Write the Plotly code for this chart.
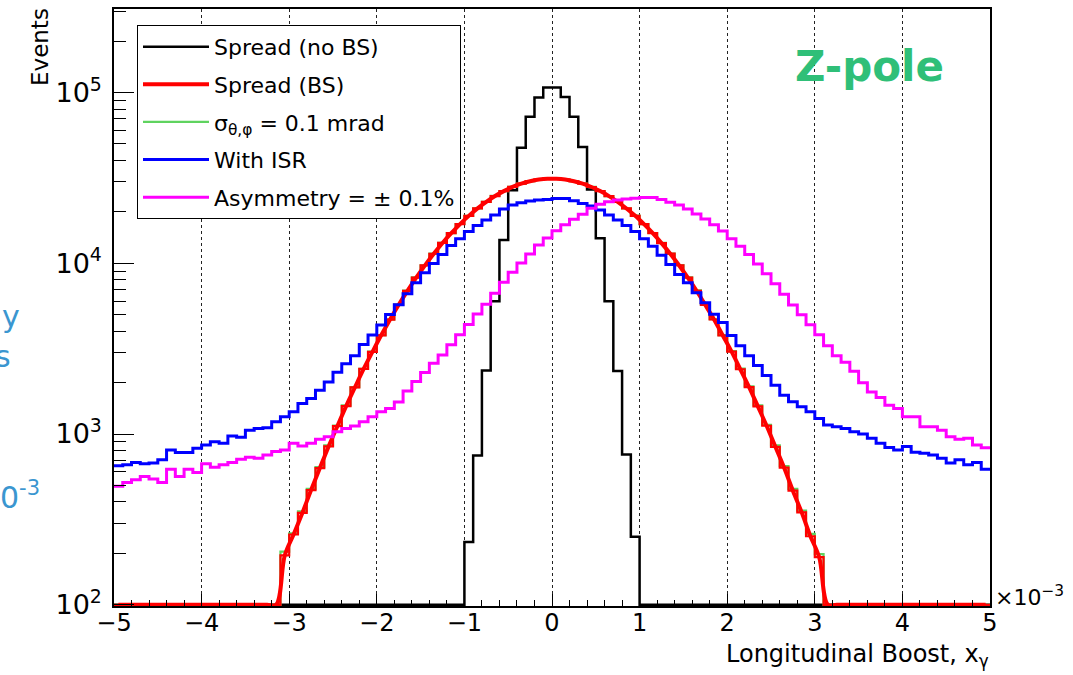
import numpy as np
import plotly.graph_objects as go

# ---------------- data (bin contents) ----------------
X_MIN, X_MAX, N_BINS = -5.0, 5.0, 100
Y_FLOOR = 100

spread_no_bs = [0] * 40 + [
    233, 748, 2355, 6000, 13700, 26800, 47500, 72000, 93600, 107000,
    107000, 94000, 72000, 48000, 27000, 14000, 6000, 2340, 760, 250,
] + [0] * 40

spread_bs = [0] * 19 + [
    195, 258, 345, 470, 632, 846, 1112, 1458, 1876, 2405,
    3025, 3785, 4675, 5715, 6895, 8245, 9725, 11370, 13150, 15000,
    16970, 18950, 20960, 22890, 24760, 26450, 27980, 29230, 30240, 30900,
    31270, 31250, 30920, 30220, 29250, 27960, 26470, 24740, 22910, 20940,
    18970, 16950, 15020, 13130, 11380, 9735, 8235, 6905, 5705, 4685,
    3775, 3035, 2395, 1884, 1452, 1118, 842, 635, 466, 348,
    252, 190,
] + [0] * 19

sigma_01 = [0] * 19 + [
    205, 262, 352, 478, 640, 858, 1120, 1470, 1880, 2410,
    3040, 3790, 4690, 5720, 6910, 8260, 9740, 11390, 13160, 15010,
    16980, 18960, 20980, 22900, 24780, 26470, 27990, 29250, 30260, 30910,
    31280, 31260, 30930, 30230, 29260, 27980, 26490, 24760, 22930, 20960,
    18990, 16970, 15040, 13150, 11400, 9760, 8260, 6930, 5730, 4700,
    3800, 3060, 2420, 1900, 1470, 1130, 858, 648, 478, 356,
    260, 198,
] + [0] * 19

with_isr = [
    652, 661, 681, 670, 676, 706, 807, 779, 779, 826,
    863, 902, 883, 973, 957, 1054, 1079, 1088, 1180, 1262,
    1350, 1508, 1613, 1803, 2015, 2303, 2576, 2878, 3340, 3800,
    4350, 5010, 5710, 6640, 7690, 8790, 9960, 11240, 12690, 13920,
    15360, 16640, 17950, 19190, 20800, 21950, 22620, 23130, 23440, 23650,
    23960, 23960, 23230, 22420, 21630, 20490, 19180, 17950, 16630, 15350,
    13920, 12570, 11140, 9820, 8590, 7690, 6720, 5880, 5030, 4500,
    3770, 3290, 2878, 2518, 2203, 1928, 1687, 1543, 1443, 1350,
    1234, 1128, 1103, 1079, 1032, 1000, 944, 883, 833, 807,
    844, 782, 772, 755, 722, 676, 706, 661, 681, 623,
]

asymmetry = [
    494, 521, 540, 565, 545, 521, 623, 565, 623, 596,
    670, 640, 661, 681, 713, 732, 722, 755, 789, 807,
    883, 851, 883, 931, 964, 1032, 1079, 1113, 1180, 1262,
    1350, 1410, 1541, 1786, 2030, 2290, 2600, 2900, 3330, 3820,
    4380, 5050, 5760, 6680, 7750, 8850, 10050, 11330, 12780, 14050,
    15480, 16800, 18100, 19380, 21000, 22150, 22900, 23450, 23800, 24050,
    24300, 24300, 23600, 22800, 21950, 20800, 19450, 18150, 16800, 15450,
    13940, 12570, 11240, 9910, 8670, 7590, 6580, 5700, 4990, 4370,
    3815, 3290, 2878, 2632, 2334, 1999, 1763, 1634, 1474, 1410,
    1262, 1262, 1103, 1103, 1054, 964, 931, 944, 863, 832,
]

x_tick_vals = [-5, -4, -3, -2, -1, 0, 1, 2, 3, 4, 5]
y_tick_vals = [1e2, 1e3, 1e4, 1e5]
y_tick_text = ["10<sup>2</sup>", "10<sup>3</sup>", "10<sup>4</sup>", "10<sup>5</sup>"]

# ---------------- figure ----------------
FONT = "DejaVu Sans"
W, H = 1073, 675
L, R, T, B = 114, 83, 7, 69
PW, PH = W - L - R, H - T - B

edges = np.linspace(X_MIN, X_MAX, N_BINS + 1)
centers = 0.5 * (edges[:-1] + edges[1:])


def step_xy(vals):
    y = np.clip(np.asarray(vals, dtype=float), Y_FLOOR, None)
    return edges, np.append(y, y[-1])


def px2paper(px, py):
    return (px - L) / PW, (H - B - py) / PH


fig = go.Figure()

x, y = step_xy(spread_no_bs)
fig.add_trace(go.Scatter(x=x, y=y, mode="lines", name="Spread (no BS)",
                         line=dict(color="black", width=2.5, shape="hv"),
                         legendgroup="a", legendrank=1))

x, y = step_xy(sigma_01)
fig.add_trace(go.Scatter(x=x, y=y, mode="lines",
                         name="σ<sub>θ,φ</sub> = 0.1 mrad",
                         line=dict(color="#5fd35f", width=2.2, shape="hv"),
                         legendgroup="c", legendrank=3))

x, y = step_xy(spread_bs)
fig.add_trace(go.Scatter(x=x, y=y, mode="lines", name="Spread (BS)",
                         line=dict(color="#ff0000", width=2.2, shape="hv"),
                         legendgroup="b", showlegend=False))
fig.add_trace(go.Scatter(x=centers, y=np.clip(np.asarray(spread_bs, float), Y_FLOOR, None),
                         mode="lines", name="Spread (BS)",
                         line=dict(color="#ff0000", width=4, shape="spline"),
                         legendgroup="b", legendrank=2))

x, y = step_xy(with_isr)
fig.add_trace(go.Scatter(x=x, y=y, mode="lines", name="With ISR",
                         line=dict(color="#0000ff", width=3, shape="hv"),
                         legendgroup="d", legendrank=4))

x, y = step_xy(asymmetry)
fig.add_trace(go.Scatter(x=x, y=y, mode="lines", name="Asymmetry = ± 0.1%",
                         line=dict(color="#ff00ff", width=3, shape="hv"),
                         legendgroup="e", legendrank=5))

ymax_log = 5.489
fig.update_layout(
    width=W, height=H, autosize=False,
    margin=dict(l=L, r=R, t=T, b=B, pad=0),
    paper_bgcolor="white", plot_bgcolor="white",
    font=dict(family=FONT, color="black"),
    showlegend=True,
    legend=dict(
        x=px2paper(137, 0)[0], y=px2paper(0, 23)[1],
        xanchor="left", yanchor="top",
        bgcolor="white", bordercolor="black", borderwidth=1,
        font=dict(family=FONT, size=22, color="black"),
        tracegroupgap=6, itemwidth=66, traceorder="grouped",
    ),
    xaxis=dict(
        range=[X_MIN, X_MAX], tickvals=x_tick_vals,
        ticks="inside", ticklen=12, tickwidth=1, tickcolor="black",
        showline=True, linecolor="black", linewidth=1.5, mirror=True,
        showgrid=True, gridcolor="#222222", griddash="dot", gridwidth=1,
        zeroline=False,
        tickfont=dict(family=FONT, size=24, color="black"),
        ticklabelstandoff=-6,
        minor=dict(dtick=0.2, tick0=-5, ticks="inside", ticklen=6,
                   tickcolor="black", showgrid=False),
    ),
    yaxis=dict(
        type="log", range=[1.993, ymax_log],
        tickvals=y_tick_vals, ticktext=y_tick_text,
        ticks="inside", ticklen=20, tickwidth=1, tickcolor="black",
        showline=True, linecolor="black", linewidth=1.5, mirror=True,
        showgrid=False, zeroline=False,
        tickfont=dict(family=FONT, size=27, color="black"),
        ticklabelstandoff=5,
        minor=dict(ticks="inside", ticklen=12, tickcolor="black", showgrid=False,
                   tickvals=[m * 10 ** e for e in range(2, 6) for m in range(2, 10)
                             if m * 10 ** e < 10 ** ymax_log]),
    ),
)

annots = []
ex, ey = px2paper(40, 4)
annots.append(dict(text="Events", x=ex, y=ey, xref="paper", yref="paper",
                   textangle=-90, xanchor="center", yanchor="top", showarrow=False,
                   font=dict(family=FONT, size=23, color="black")))
tx, ty = px2paper(991, 638)
annots.append(dict(text="Longitudinal Boost, x<sub>γ</sub>", x=tx, y=ty,
                   xref="paper", yref="paper", xanchor="right", yanchor="top",
                   showarrow=False, font=dict(family=FONT, size=24, color="black")))
mx, my = px2paper(993, 596)
annots.append(dict(text="×10<sup>−3</sup>", x=mx, y=my, xref="paper", yref="paper",
                   xanchor="left", yanchor="middle", showarrow=False,
                   font=dict(family=FONT, size=22, color="black")))
zx, zy = px2paper(869, 65)
annots.append(dict(text="<b>Z-pole</b>", x=zx, y=zy, xref="paper", yref="paper",
                   xanchor="center", yanchor="middle", showarrow=False,
                   font=dict(family=FONT, size=42, color="#2fbf78")))
# slide text fragments cut off at the left edge
for txt, pxr, pyc in [("y", 22, 316), ("s", 13, 356), ("0<sup>-3</sup>", 42, 495)]:
    fx, fy = px2paper(pxr, pyc)
    annots.append(dict(text=txt, x=fx, y=fy, xref="paper", yref="paper",
                       xanchor="right", yanchor="middle", showarrow=False,
                       font=dict(family=FONT, size=30, color="#3a96d0")))
fig.update_layout(annotations=annots)

fig.write_html("out.html")
